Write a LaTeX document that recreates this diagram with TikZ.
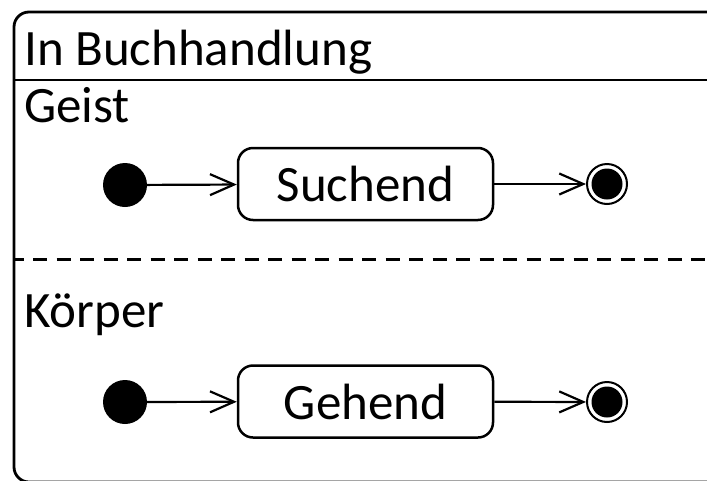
\documentclass[tikz,border=0pt]{standalone}
\usepackage{fontspec}
\setmainfont{Carlito}
\usetikzlibrary{arrows.meta,positioning}

\begin{document}
\begin{tikzpicture}[x=1pt, y=-1pt, >={Straight Barb[length=24pt,width=21pt]},
  every node/.style={font=\fontsize{51}{61}\selectfont},
  zustand/.style={draw, line width=2.5pt, rounded corners=15pt, minimum width=255pt, minimum height=72pt, inner sep=0pt},
  anfang/.style={circle, fill, minimum size=44pt, inner sep=0pt},
  ende/.style={circle, draw, line width=2pt, minimum size=40pt, inner sep=0pt,
    path picture={\fill (path picture bounding box.center) circle (15.5pt);}},
  bereich/.style={anchor=base west, inner sep=0pt},
  pfeil/.style={->, line width=2.2pt}]
  \clip (0,0) rectangle (707,480);
  % composite state with two regions
  \draw[line width=2.8pt, rounded corners=15pt] (14,12) rectangle (722,482);
  \draw[line width=2.5pt] (14,80) -- (722,80);
  \draw[line width=3pt, dash pattern=on 14pt off 9.5pt, dash phase=4.5pt] (14,259) -- (722,259);
  \node[bereich] (titel) at (24,65) {In Buchhandlung};
  \node[bereich] (geist) at (24,122) {Geist};
  \node[bereich] (koerper) at (24,327) {Körper};

  \node[anfang] (anfang1) at (125,185) {};
  \node[zustand] (suchend) at (365.5,184) {Suchend};
  \node[ende] (ende1) at (607,184) {};
  \draw[pfeil] (anfang1) -- (suchend);
  \draw[pfeil] (suchend) -- (ende1);

  \node[anfang] (anfang2) at (125,402) {};
  \node[zustand] (gehend) at (365.5,401.5) {Gehend};
  \node[ende] (ende2) at (607,402) {};
  \draw[pfeil] (anfang2) -- (gehend);
  \draw[pfeil] (gehend) -- (ende2);
\end{tikzpicture}
\end{document}
